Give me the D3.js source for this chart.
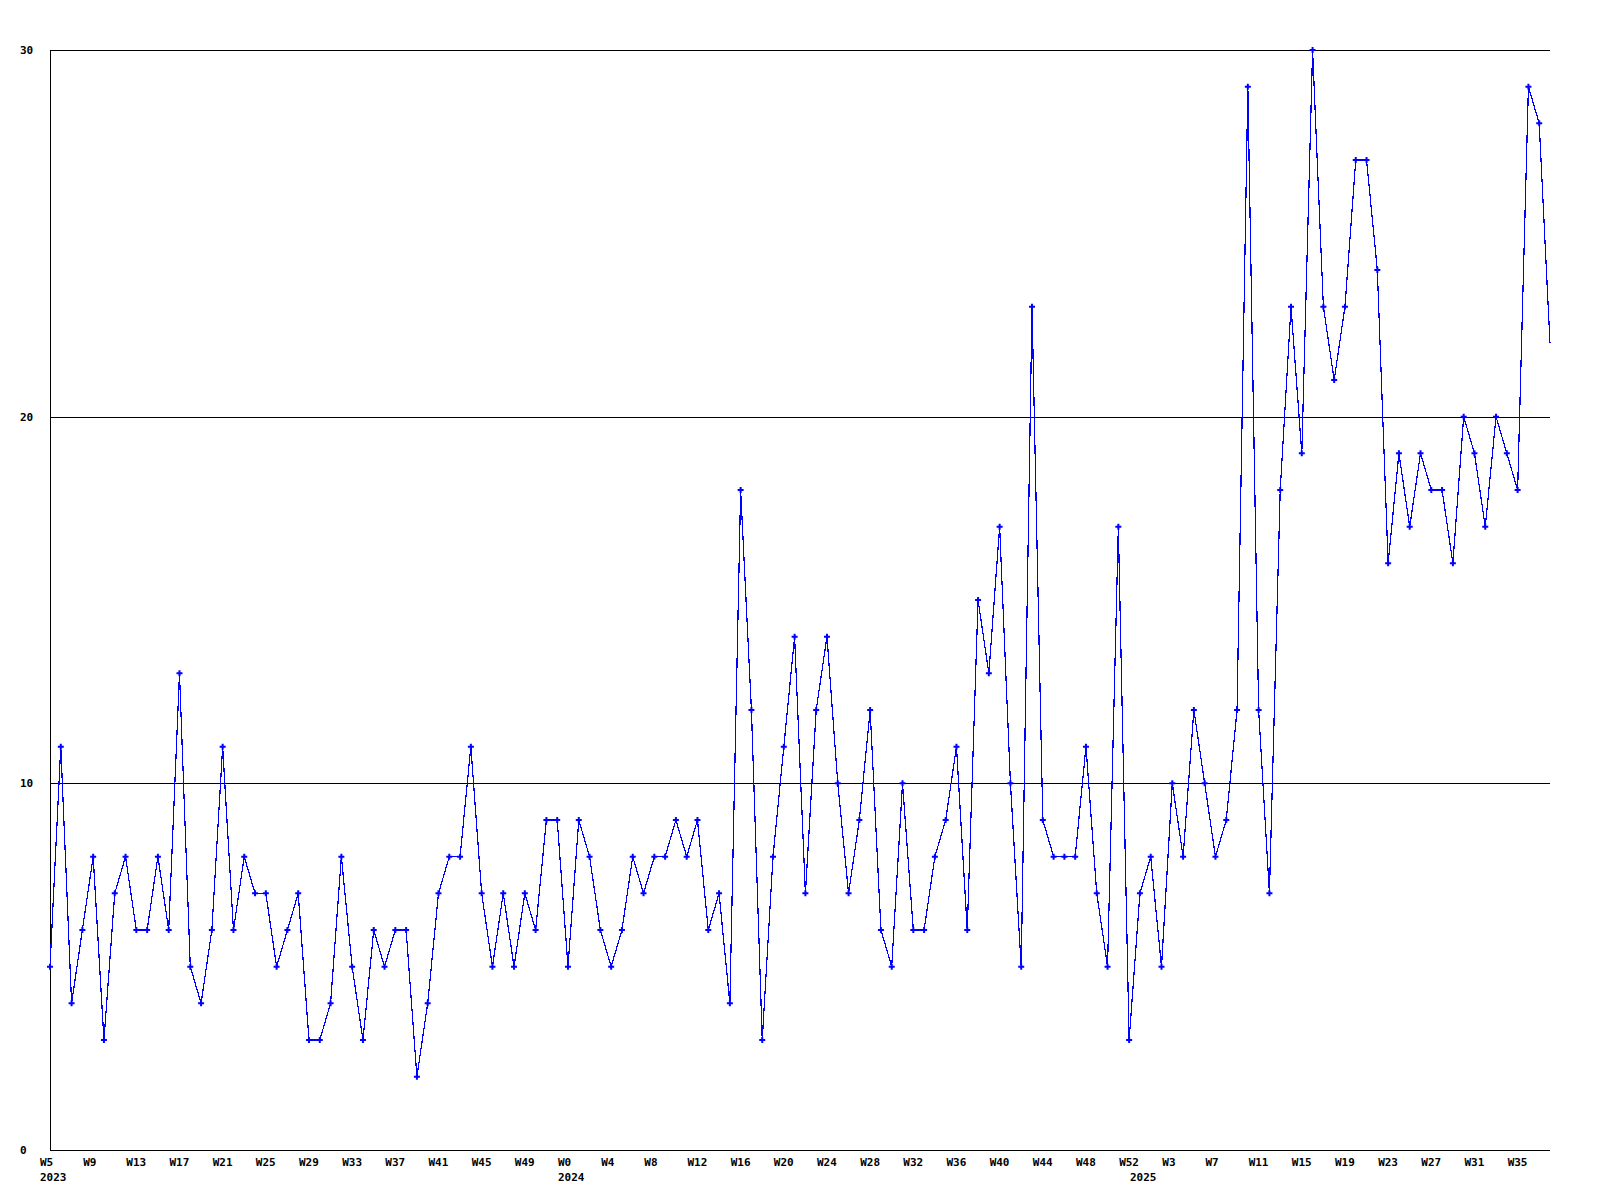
<!DOCTYPE html>
<html>
<head>
<meta charset="utf-8">
<script src="https://cdn.jsdelivr.net/npm/d3@7"></script>
<style>
  html, body { margin: 0; padding: 0; background: #fff; }
  svg { display: block; }
  text { font-family: "DejaVu Sans Mono", "Liberation Mono", monospace; font-weight: bold; font-size: 11px; fill: #000; }
</style>
</head>
<body>
<svg id="chart" width="1600" height="1200"></svg>
<script>
// ---- data ----
// weekly counts, 2023 W5 .. 2025 W38
const yearSegments = [
  { year: 2023, firstWeek: 5, lastWeek: 52 },
  { year: 2024, firstWeek: 0, lastWeek: 52 },
  { year: 2025, firstWeek: 0, lastWeek: 38 }
];
const values = [
  5,11,4,6,8,3,7,8,6,6,8,6,13,5,4,6,11,6,8,7,7,5,6,7,3,3,
  4,8,5,3,6,5,6,6,2,4,7,8,8,11,7,5,7,5,7,6,9,9,5,9,
  8,6,5,6,8,7,8,8,9,8,9,6,7,4,18,12,3,8,11,14,7,12,14,10,
  7,9,12,6,5,10,6,6,8,9,11,6,15,13,17,10,5,23,9,8,8,8,11,7,
  5,17,3,7,8,5,10,8,12,10,8,9,12,29,12,7,18,23,19,30,23,21,23,27,
  27,24,16,19,17,19,18,18,16,20,19,17,20,19,18,29,28,22
];
const yTicks = [0, 10, 20, 30];
const tickEvery = 4;

(function () {
  // categories built from the year segments
  const categories = [];
  yearSegments.forEach(s => {
    for (let w = s.firstWeek; w <= s.lastWeek; w++) categories.push({ year: s.year, week: w, key: s.year + "-W" + w });
  });
  const data = categories.map((c, i) => ({ ...c, value: values[i] }));

  // ---- layout ----
  const pLeft = 50, pRight = 1550, pTop = 50, pBottom = 1150;
  const svg = d3.select("#chart");

  const x = d3.scalePoint().domain(categories.map(c => c.key)).range([pLeft, pRight]);
  const y = d3.scaleLinear().domain([0, 30]).range([pBottom, pTop]);

  // gridlines
  svg.append("g").selectAll("line").data(yTicks.filter(t => t > 0)).join("line")
    .attr("x1", pLeft).attr("x2", pRight)
    .attr("y1", d => y(d) + 0.5).attr("y2", d => y(d) + 0.5)
    .attr("stroke", "#000").attr("stroke-width", 1).attr("shape-rendering", "crispEdges");

  // axis lines
  svg.append("line").attr("x1", pLeft + 0.5).attr("x2", pLeft + 0.5).attr("y1", pTop).attr("y2", pBottom + 0.5)
    .attr("stroke", "#000").attr("shape-rendering", "crispEdges");
  svg.append("line").attr("x1", pLeft).attr("x2", pRight).attr("y1", pBottom + 0.5).attr("y2", pBottom + 0.5)
    .attr("stroke", "#000").attr("shape-rendering", "crispEdges");

  // y labels
  svg.append("g").selectAll("text").data(yTicks).join("text")
    .attr("x", 20).attr("y", d => y(d) + 4)
    .text(d => d);

  // x labels
  const tickData = data.filter((d, i) => i % tickEvery === 0);
  svg.append("g").selectAll("text").data(tickData).join("text")
    .attr("x", d => x(d.key) - 10).attr("y", pBottom + 16)
    .text(d => "W" + d.week);

  // year labels at first week of each year
  const yearFirst = yearSegments.map(s => data.find(d => d.year === s.year));
  svg.append("g").selectAll("text").data(yearFirst).join("text")
    .attr("x", d => x(d.key) - 10).attr("y", pBottom + 31)
    .text(d => d.year);

  // line
  const line = d3.line().x(d => x(d.key)).y(d => y(d.value));
  svg.append("path").datum(data)
    .attr("d", line)
    .attr("fill", "none").attr("stroke", "#0000ff").attr("stroke-width", 1.2)
    .attr("shape-rendering", "crispEdges");

  // markers (last point sits on the plot edge and has none)
  const cross = d3.symbol().type(d3.symbolCross).size(20);
  svg.append("g").selectAll("path").data(data.slice(0, -1)).join("path")
    .attr("transform", d => `translate(${x(d.key)},${y(d.value)})`)
    .attr("d", cross)
    .attr("fill", "#0000ff");
})();
</script>
</body>
</html>
